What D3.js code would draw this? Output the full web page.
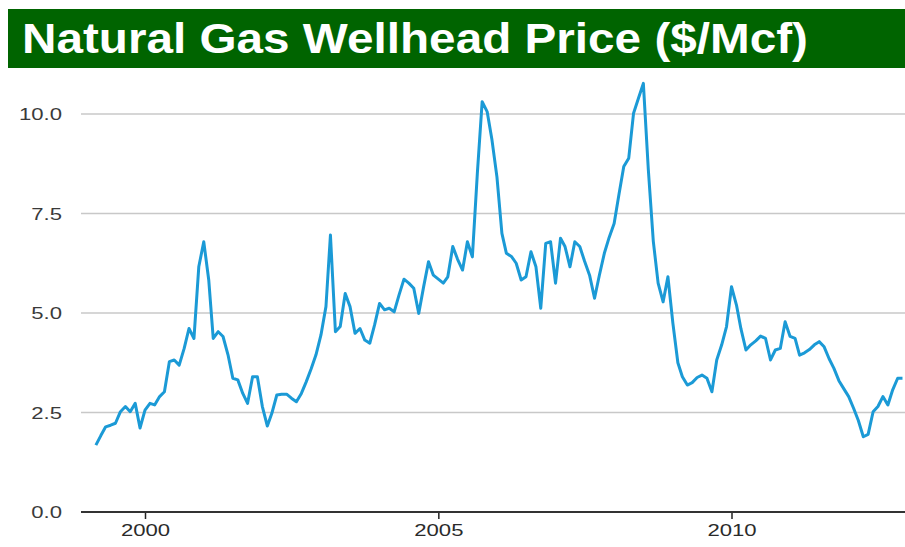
<!DOCTYPE html>
<html>
<head>
<meta charset="utf-8">
<script src="https://cdn.jsdelivr.net/npm/d3@7"></script>
<style>
  html, body { margin: 0; padding: 0; background: #fff; }
  svg { display: block; }
</style>
</head>
<body>
<div id="chart"></div>
<script>
// ---- Data (monthly, starting March 1999) ----
const startYear = 1999;
const startMonth = 2; // March (0-based)
const prices = [
  1.68, 1.92, 2.14, 2.18, 2.23, 2.52, 2.65, 2.52, 2.73, 2.11,            // Mar-Dec 1999
  2.56, 2.73, 2.69, 2.90, 3.02, 3.78, 3.82, 3.69, 4.11, 4.61, 4.36, 6.16, // 2000
  6.79, 5.83, 4.36, 4.53, 4.41, 3.95, 3.36, 3.32, 2.98, 2.73, 3.40, 3.40, // 2001
  2.65, 2.16, 2.48, 2.94, 2.96, 2.96, 2.86, 2.77, 2.98, 3.27, 3.60, 3.95, // 2002
  4.45, 5.16, 6.96, 4.53, 4.66, 5.49, 5.16, 4.49, 4.61, 4.32, 4.24, 4.70, // 2003
  5.24, 5.08, 5.12, 5.03, 5.45, 5.85, 5.75, 5.62, 4.99, 5.65, 6.29, 5.95, // 2004
  5.85, 5.75, 5.91, 6.67, 6.35, 6.08, 6.79, 6.41, 8.51, 10.31, 10.06, 9.35, // 2005
  8.42, 7.00, 6.50, 6.42, 6.25, 5.83, 5.91, 6.54, 6.16, 5.12, 6.75, 6.79, // 2006
  5.75, 6.88, 6.67, 6.16, 6.79, 6.67, 6.30, 5.95, 5.37, 5.95, 6.50, 6.90, // 2007
  7.25, 8.00, 8.68, 8.89, 10.02, 10.40, 10.77, 8.60, 6.80, 5.75, 5.28, 5.91, // 2008
  4.74, 3.75, 3.40, 3.19, 3.25, 3.38, 3.44, 3.36, 3.02, 3.82, 4.20, 4.66, // 2009
  5.66, 5.20, 4.60, 4.07, 4.20, 4.30, 4.42, 4.36, 3.82, 4.07, 4.11, 4.78, // 2010
  4.41, 4.36, 3.94, 4.00, 4.08, 4.20, 4.28, 4.15, 3.85, 3.61, 3.30, 3.10, // 2011
  2.90, 2.60, 2.30, 1.89, 1.95, 2.52, 2.65, 2.90, 2.69, 3.07, 3.36, 3.36  // 2012
];
const yTicks = [0, 2.5, 5, 7.5, 10];
const xTickYears = [2000, 2005, 2010];
const title = "Natural Gas Wellhead Price ($/Mcf)";

const data = prices.map((v, k) => ({ date: new Date(startYear, startMonth + k, 1), value: v }));

// ---- Layout ----
const W = 905, H = 547;
const plotLeft = 81, plotRight = 905;
const stretch = 1.3; // horizontal stretch of the reference's label glyphs

const svg = d3.select("#chart").append("svg")
  .attr("width", W).attr("height", H);

// Title bar
svg.append("rect")
  .attr("x", 8).attr("y", 9).attr("width", W - 8).attr("height", 59)
  .attr("fill", "#006400");
svg.append("text")
  .attr("x", 22).attr("y", 53)
  .attr("fill", "#fff")
  .attr("font-family", "Liberation Sans, Arial, sans-serif")
  .attr("font-weight", "bold")
  .attr("font-size", 42)
  .attr("textLength", 786)
  .attr("lengthAdjust", "spacingAndGlyphs")
  .text(title);

// Scales
const x = d3.scaleTime()
  .domain([new Date(2000, 0, 1), new Date(2010, 0, 1)])
  .range([145, 731.5]);
const y = d3.scaleLinear().domain([0, 10]).range([512, 114]);

function widen(sel) {
  sel.each(function () {
    const len = this.getComputedTextLength();
    d3.select(this).attr("textLength", len * stretch).attr("lengthAdjust", "spacingAndGlyphs");
  });
}

// Gridlines
svg.append("g").selectAll("line")
  .data(yTicks.filter(d => d > 0))
  .join("line")
  .attr("x1", plotLeft).attr("x2", plotRight)
  .attr("y1", d => y(d)).attr("y2", d => y(d))
  .attr("stroke", "#c8c8c8").attr("stroke-width", 1.5);

// Y labels
svg.append("g").selectAll("text")
  .data(yTicks)
  .join("text")
  .attr("x", 62).attr("y", d => y(d))
  .attr("dy", "0.36em")
  .attr("text-anchor", "end")
  .attr("font-family", "Liberation Sans, Arial, sans-serif")
  .attr("font-size", 17)
  .attr("fill", "#3a3a3a")
  .text(d => d3.format(".1f")(d))
  .call(widen);

// X axis
const xAxis = d3.axisBottom(x)
  .tickValues(xTickYears.map(yr => new Date(yr, 0, 1)))
  .tickSize(7)
  .tickFormat(d3.timeFormat("%Y"));
const gx = svg.append("g")
  .attr("transform", `translate(0,${y(0)})`)
  .call(xAxis);
gx.select(".domain").remove();
gx.selectAll(".tick line").attr("stroke", "#222").attr("stroke-width", 1.5);
gx.selectAll(".tick text")
  .attr("font-family", "Liberation Sans, Arial, sans-serif")
  .attr("font-size", 17)
  .attr("fill", "#2a2a2a")
  .attr("dy", "0.85em")
  .call(widen);

svg.append("line")
  .attr("x1", plotLeft).attr("x2", plotRight)
  .attr("y1", y(0)).attr("y2", y(0))
  .attr("stroke", "#333").attr("stroke-width", 2);

// Line
const line = d3.line()
  .x(d => x(d.date))
  .y(d => y(d.value));
svg.append("path")
  .datum(data)
  .attr("fill", "none")
  .attr("stroke", "#1b9ad6")
  .attr("stroke-width", 3)
  .attr("stroke-linejoin", "round")
  .attr("d", line);
</script>
</body>
</html>
